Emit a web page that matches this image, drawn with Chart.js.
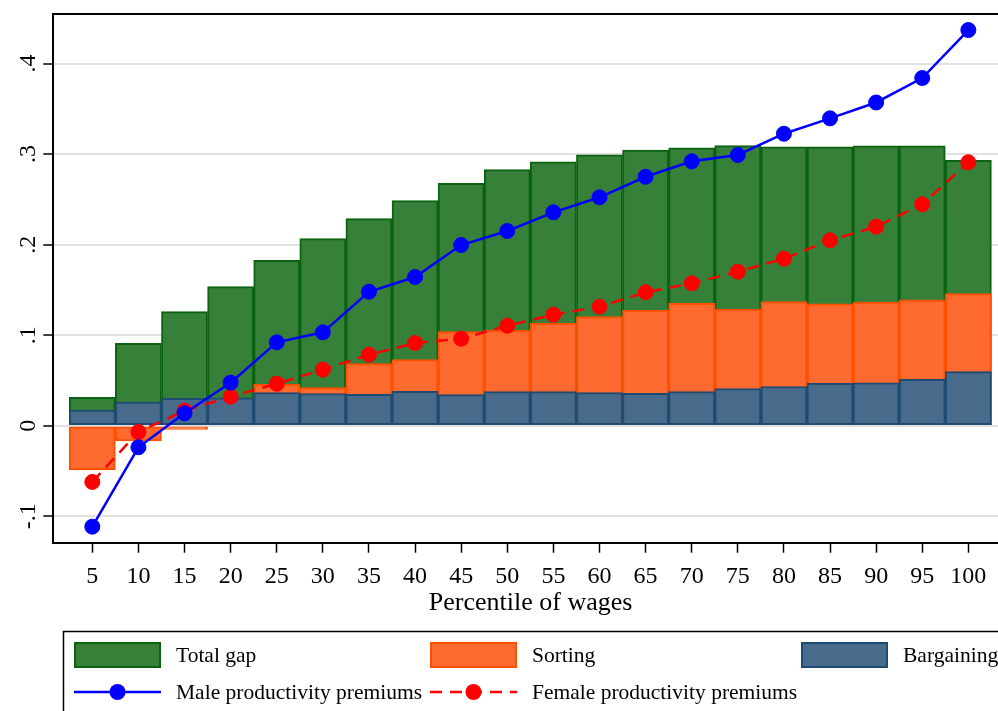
<!DOCTYPE html>
<html>
<head>
<meta charset="utf-8">
<script src="https://cdn.jsdelivr.net/npm/chart.js@4/dist/chart.umd.min.js"></script>
<style>
  html, body { margin: 0; padding: 0; background: #fff; overflow: hidden; }
  #wrap { position: relative; width: 1020px; height: 740px; }
</style>
</head>
<body>
<div id="wrap"><canvas id="c" width="1020" height="740"></canvas></div>
<script>
// Wage percentiles on the horizontal axis
const percentiles = [5, 10, 15, 20, 25, 30, 35, 40, 45, 50, 55, 60, 65, 70, 75, 80, 85, 90, 95, 100];

// Gap decomposition by percentile
const totalGap   = [0.0315, 0.0910, 0.1260, 0.1536, 0.1827, 0.2066, 0.2287, 0.2486, 0.2677, 0.2828,
                    0.2915, 0.2993, 0.3045, 0.3070, 0.3093, 0.3080, 0.3080, 0.3090, 0.3090, 0.2930];
const sorting    = [-0.0488, -0.0168, -0.0039, 0.0120, 0.0458, 0.0421, 0.0686, 0.0730, 0.1039, 0.1054,
                    0.1130, 0.1205, 0.1275, 0.1352, 0.1286, 0.1372, 0.1348, 0.1367, 0.1390, 0.1459];
const bargaining = [0.0174, 0.0263, 0.0304, 0.0310, 0.0366, 0.0355, 0.0348, 0.0381, 0.0344, 0.0377,
                    0.0377, 0.0366, 0.0359, 0.0377, 0.0410, 0.0434, 0.0470, 0.0474, 0.0513, 0.0598];

// Productivity premiums by gender
const malePremiums   = [-0.1114, -0.0237, 0.0138, 0.0476, 0.0922, 0.1032, 0.1480, 0.1643, 0.1996, 0.2151,
                        0.2357, 0.2523, 0.2750, 0.2920, 0.2990, 0.3225, 0.3395, 0.3570, 0.3840, 0.4370];
const femalePremiums = [-0.0620, -0.0068, 0.0167, 0.0321, 0.0465, 0.0620, 0.0785, 0.0914, 0.0962, 0.1105,
                        0.1227, 0.1315, 0.1474, 0.1573, 0.1702, 0.1845, 0.2048, 0.2199, 0.2445, 0.2910];

// Axis ticks and labels
const yTickValues = [-0.1, 0, 0.1, 0.2, 0.3, 0.4];
const yTickLabels = ['-.1', '0', '.1', '.2', '.3', '.4'];
const xTitle = 'Percentile of wages';
const seriesNames = ['Total gap', 'Sorting', 'Bargaining', 'Male productivity premiums', 'Female productivity premiums'];

const SERIF = "'Liberation Serif', 'Times New Roman', serif";
const pts = arr => percentiles.map((p, i) => ({ x: p, y: arr[i] }));

// Plot frame: top and right edges (left/bottom come from the axes)
const framePlugin = {
  id: 'frame',
  afterDatasetsDraw(chart) {
    const { ctx, chartArea: a } = chart;
    ctx.save();
    ctx.strokeStyle = '#000';
    ctx.lineWidth = 2;
    ctx.beginPath();
    ctx.moveTo(a.left, a.top);
    ctx.lineTo(a.right, a.top);
    ctx.lineTo(a.right, a.bottom);
    ctx.stroke();
    ctx.restore();
  }
};

// Boxed legend below the plot, laid out in three columns
const boxLegendPlugin = {
  id: 'boxLegend',
  afterDraw(chart) {
    const { ctx } = chart;
    const ds = chart.data.datasets;
    const byLabel = l => ds.find(d => d.label === l);
    ctx.save();
    ctx.strokeStyle = '#000';
    ctx.lineWidth = 1.5;
    ctx.strokeRect(63.5, 631.5, 950, 100);

    const cols = [74, 430, 801];
    const swW = 87, swH = 26, row1 = 655, row2 = 692, textGap = 15;
    ctx.font = '21.5px ' + SERIF;
    ctx.fillStyle = '#000';
    ctx.textBaseline = 'middle';

    // bar swatches
    ['Total gap', 'Sorting', 'Bargaining'].forEach((name, i) => {
      const d = byLabel(name);
      const x = cols[i];
      ctx.fillStyle = d.backgroundColor;
      ctx.fillRect(x, row1 - swH / 2, swW, swH);
      ctx.strokeStyle = d.borderColor;
      ctx.lineWidth = 2;
      ctx.strokeRect(x + 1, row1 - swH / 2 + 1, swW - 2, swH - 2);
      ctx.fillStyle = '#000';
      ctx.fillText(name, x + swW + textGap, row1 + 1);
    });

    // line + marker swatches
    ['Male productivity premiums', 'Female productivity premiums'].forEach((name, i) => {
      const d = byLabel(name);
      const x = cols[i];
      ctx.strokeStyle = d.borderColor;
      ctx.lineWidth = d.borderWidth;
      ctx.setLineDash(d.borderDash || []);
      ctx.beginPath();
      ctx.moveTo(x, row2);
      ctx.lineTo(x + swW, row2);
      ctx.stroke();
      ctx.setLineDash([]);
      ctx.fillStyle = d.backgroundColor;
      ctx.beginPath();
      ctx.arc(x + swW / 2, row2, 8, 0, Math.PI * 2);
      ctx.fill();
      ctx.fillStyle = '#000';
      ctx.fillText(name, x + swW + textGap, row2 + 1);
    });
    ctx.restore();
  }
};

new Chart(document.getElementById('c'), {
  type: 'bar',
  data: {
    datasets: [
      {
        type: 'line', label: seriesNames[3], data: pts(malePremiums),
        borderColor: '#0000ff', backgroundColor: '#0000ff', borderWidth: 2.5,
        pointRadius: 7.5, pointBorderWidth: 1, pointHoverRadius: 7.5, tension: 0, order: 0
      },
      {
        type: 'line', label: seriesNames[4], data: pts(femalePremiums),
        borderColor: '#ff0000', backgroundColor: '#ff0000', borderWidth: 2.5, borderDash: [12, 8],
        pointRadius: 7.5, pointBorderWidth: 1, pointHoverRadius: 7.5, tension: 0, order: 1
      },
      {
        label: seriesNames[2], data: pts(bargaining),
        backgroundColor: '#486a8b', borderColor: '#1e4b72', order: 2
      },
      {
        label: seriesNames[1], data: pts(sorting),
        backgroundColor: '#ff6a31', borderColor: '#ff5000', order: 3
      },
      {
        label: seriesNames[0], data: pts(totalGap),
        backgroundColor: '#36803a', borderColor: '#0b6312', order: 4
      }
    ]
  },
  options: {
    responsive: false,
    animation: false,
    devicePixelRatio: 1,
    layout: { padding: { left: 0, right: 12, top: 14, bottom: 121.3 } },
    plugins: { legend: { display: false }, tooltip: { enabled: false } },
    datasets: {
      bar: { grouped: false, barPercentage: 1, categoryPercentage: 1, borderWidth: 2, borderSkipped: false }
    },
    scales: {
      x: {
        type: 'linear', min: 0.77, max: 104.3, offset: false,
        afterBuildTicks: s => { s.ticks = percentiles.map(v => ({ value: v })); },
        afterFit: s => { s.height = 76; s.paddingLeft = 0; s.paddingRight = 0; },
        grid: { offset: false, drawOnChartArea: false, drawTicks: true, tickLength: 10, tickColor: '#000', tickWidth: 1.5 },
        border: { display: true, color: '#000', width: 2 },
        ticks: {
          autoSkip: false, maxRotation: 0, minRotation: 0, padding: 10, color: '#000',
          font: { family: SERIF, size: 24 }
        },
        title: {
          display: true, text: xTitle, color: '#000',
          font: { family: SERIF, size: 26 }, padding: { top: 0, bottom: 0 }
        }
      },
      y: {
        type: 'linear', min: -0.1291, max: 0.4547,
        afterBuildTicks: s => { s.ticks = yTickValues.map(v => ({ value: v })); },
        afterFit: s => { s.width = 53.3; s.paddingTop = 0; s.paddingBottom = 0; },
        grid: { color: '#e1e1e1', lineWidth: 2, tickColor: '#000', tickLength: 10, tickWidth: 1.5, drawTicks: true },
        border: { display: true, color: '#000', width: 2 },
        ticks: {
          callback: (v, i) => yTickLabels[i],
          minRotation: 90, maxRotation: 90, crossAlign: 'center', padding: 2, color: '#000',
          font: { family: SERIF, size: 24 }
        }
      }
    }
  },
  plugins: [framePlugin, boxLegendPlugin]
});
</script>
</body>
</html>
